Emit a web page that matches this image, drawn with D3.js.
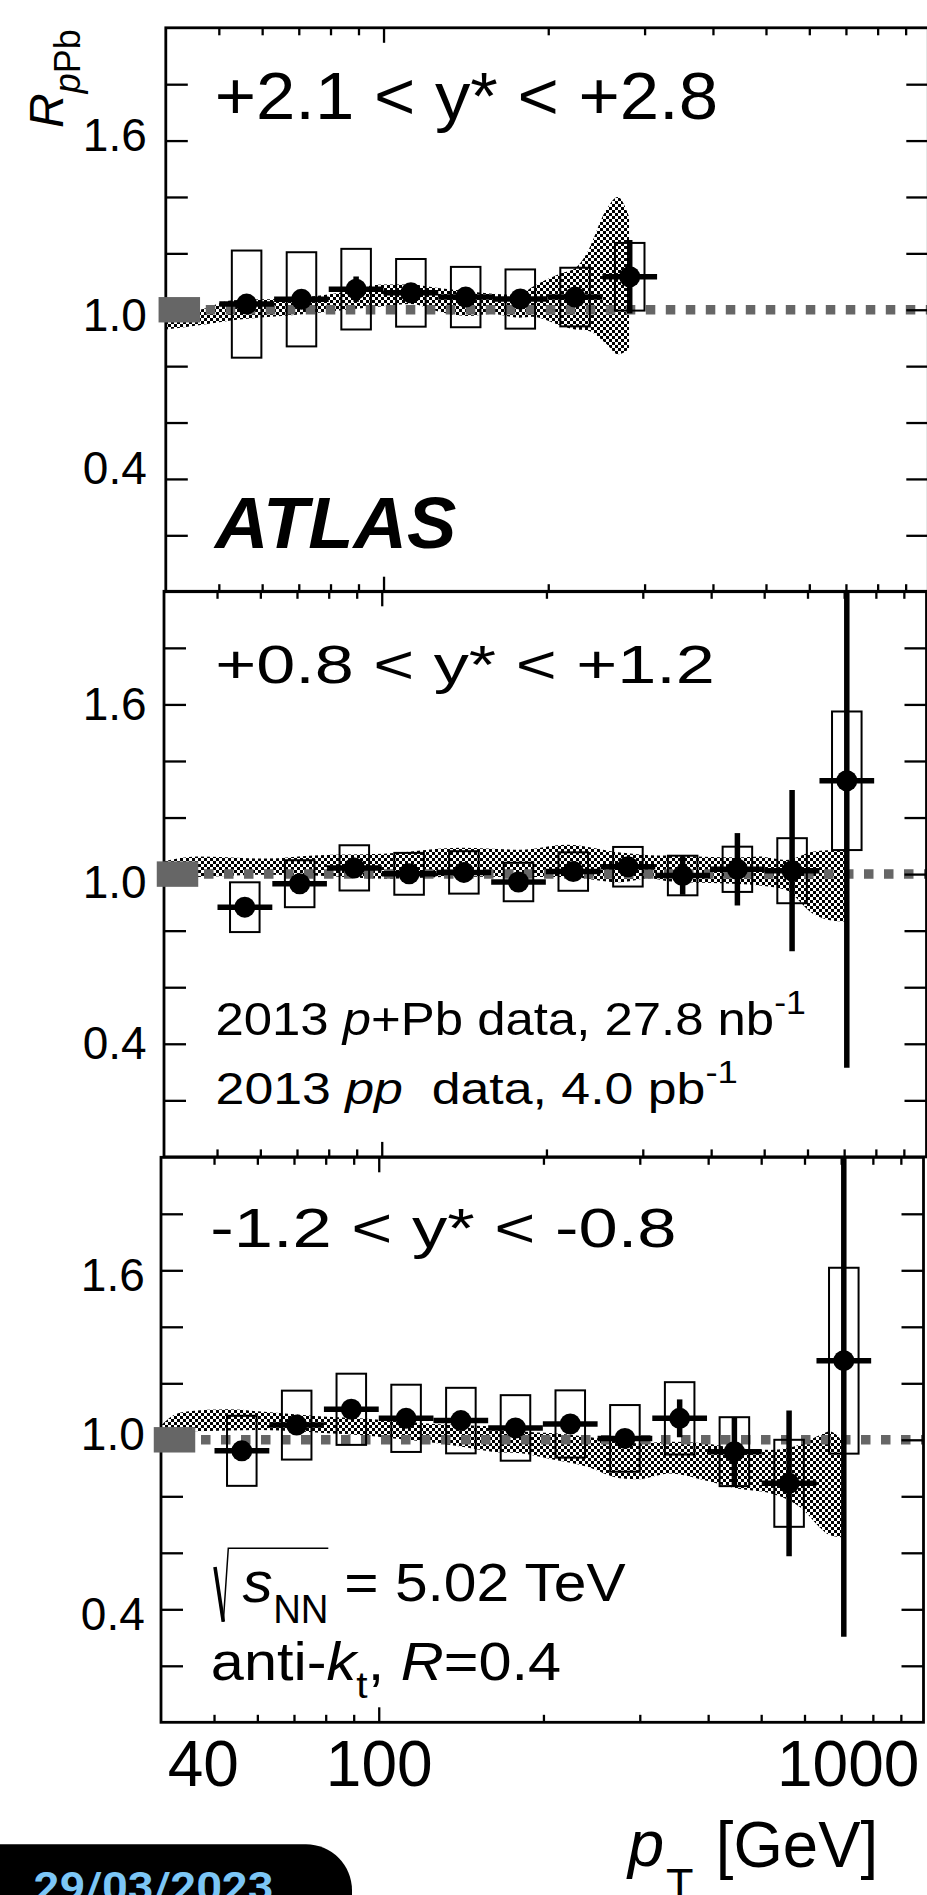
<!DOCTYPE html>
<html>
<head>
<meta charset="utf-8">
<script src="https://cdn.jsdelivr.net/npm/d3@7"></script>
<style>
  html, body { margin: 0; padding: 0; background: #fff; }
  svg { display: block; }
  text { font-family: "Liberation Sans", Arial, Helvetica, sans-serif; white-space: pre; }
</style>
</head>
<body>
<svg id="chart" width="927" height="1895"></svg>
<script>
// ---------------- data ----------------
// jet pT bins [GeV]: edges and plotted centres
const ptEdges   = [50.1, 63.1, 79.4, 100.0, 125.9, 158.5, 199.5, 251.2, 316.2, 398.1, 501.2, 631.0, 794.3];
const ptCenters = [56.2, 70.8, 89.1, 112.2, 141.3, 177.8, 223.9, 281.8, 354.8, 446.7, 562.3, 707.9];

const rapidityLabels = ["+2.1 < y* < +2.8", "+0.8 < y* < +1.2", "-1.2 < y* < -0.8"];

// +2.1 < y* < +2.8
const rFwd    = [1.020, 1.037, 1.073, 1.060, 1.045, 1.038, 1.045, 1.117];
const statFwd = [0.020, 0.020, 0.045, 0.020, 0.020, 0.020, 0.025, 0.130];
const sysFwd  = [0.190, 0.167, 0.143, 0.120, 0.107, 0.105, 0.104, 0.120];

// +0.8 < y* < +1.2
const rMid    = [0.883, 0.966, 1.022, 1.001, 1.006, 0.972, 1.009, 1.026, 0.995, 1.017, 1.012, 1.330];
const statMid = [0.020, 0.020, 0.020, 0.020, 0.020, 0.020, 0.020, 0.025, 0.068, 0.128, 0.285, 1.015];
const sysMid  = [0.088, 0.083, 0.080, 0.074, 0.075, 0.068, 0.068, 0.070, 0.070, 0.080, 0.115, 0.245];

// -1.2 < y* < -0.8
const rBwd    = [0.961, 1.052, 1.108, 1.076, 1.068, 1.042, 1.056, 1.005, 1.076, 0.958, 0.846, 1.280];
const statBwd = [0.020, 0.020, 0.020, 0.020, 0.020, 0.020, 0.020, 0.020, 0.067, 0.122, 0.258, 0.977];
const sysBwd  = [0.124, 0.122, 0.126, 0.119, 0.116, 0.116, 0.119, 0.118, 0.128, 0.122, 0.154, 0.329];

// hatched uncertainty bands (pT, lower, upper)
const bandFwdPt = [40, 46, 53, 67, 81, 100, 112, 128, 142, 158, 177, 187, 210, 224, 235, 255, 268, 281];
const bandFwdLo = [0.930, 0.945, 0.963, 0.980, 0.995, 1.012, 1.020, 0.990, 0.978, 0.985, 0.972, 0.975, 0.945, 0.930, 0.927, 0.880, 0.842, 0.860];
const bandFwdHi = [0.990, 1.000, 1.034, 1.040, 1.057, 1.090, 1.090, 1.075, 1.066, 1.057, 1.053, 1.081, 1.128, 1.147, 1.199, 1.353, 1.400, 1.330];

const bandMidPt = [40, 46, 61.5, 75, 101, 140, 179, 218, 273, 309, 333, 449, 490, 548, 613, 667, 703];
const bandMidLo = [0.995, 0.990, 0.998, 0.995, 0.984, 0.991, 0.990, 0.990, 0.971, 0.985, 0.975, 0.965, 0.960, 0.944, 0.861, 0.835, 0.832];
const bandMidHi = [1.045, 1.062, 1.055, 1.066, 1.072, 1.093, 1.086, 1.104, 1.076, 1.067, 1.066, 1.059, 1.062, 1.050, 1.079, 1.085, 1.086];

const bandBwdPt = [40, 42, 44.6, 53, 61, 71, 80.5, 92, 106.5, 122, 141, 161, 182, 209, 240, 276, 296, 341, 392, 451, 519, 597, 640, 668, 700];
const bandBwdLo = [1.035, 1.030, 1.030, 1.033, 1.035, 1.030, 1.023, 1.017, 1.005, 0.993, 0.976, 0.958, 0.952, 0.929, 0.905, 0.864, 0.860, 0.881, 0.858, 0.828, 0.811, 0.752, 0.690, 0.662, 0.655];
const bandBwdHi = [1.050, 1.085, 1.100, 1.108, 1.100, 1.090, 1.082, 1.076, 1.067, 1.058, 1.052, 1.046, 1.029, 1.023, 1.011, 0.995, 0.988, 0.993, 0.988, 0.970, 0.964, 0.988, 1.017, 1.029, 1.000];

// luminosity / normalisation uncertainty box at unity
const normUnc = 0.045;
const normPtRange = [38.8, 46.2];

// axes
const ptDomain = [40, 990];
const rDomain = [0, 2];
const yTickValues = [0.2, 0.4, 0.6, 0.8, 1.0, 1.2, 1.4, 1.6, 1.8];
const yLabelValues = [0.4, 1.0, 1.6];
const xMinorTicks = [50, 60, 70, 80, 90, 200, 300, 400, 500, 600, 700, 800, 900];
const xMajorTicks = [100];
const xTickLabels = ["40", "100", "1000"];

// ---------------- layout ----------------
const PANEL_W = 762.5;
const panels = [
  { left: 165.8, top: 27.8,   bottom: 591.7,  labelPad: 19,   labelNudge: [-12.3, 4.2, -6.6],
    r: rFwd, stat: statFwd, sys: sysFwd, bPt: bandFwdPt, bLo: bandFwdLo, bHi: bandFwdHi },
  { left: 164.0, top: 591.3,  bottom: 1156.9, labelPad: 17.4, labelNudge: [-2.3, 6.9, -1.0],
    r: rMid, stat: statMid, sys: sysMid, bPt: bandMidPt, bLo: bandMidLo, bHi: bandMidHi },
  { left: 161.0, top: 1157.3, bottom: 1722.3, labelPad: 16.2, labelNudge: [4.0, -7.1, 3.5],
    r: rBwd, stat: statBwd, sys: sysBwd, bPt: bandBwdPt, bLo: bandBwdLo, bHi: bandBwdHi }
];
const BOX_HALF_DEC = 0.027;   // half-width of systematic boxes in decades
const GREY = "#666666";

const svg = d3.select("#chart");
const defs = svg.append("defs");

// checkerboard hatch used by the band
const CELL = 3;
const pat = defs.append("pattern").attr("id", "checker")
  .attr("width", 2 * CELL).attr("height", 2 * CELL).attr("patternUnits", "userSpaceOnUse");
pat.append("rect").attr("x", 0).attr("y", 0).attr("width", CELL).attr("height", CELL)
  .attr("fill", "#000").attr("shape-rendering", "crispEdges");
pat.append("rect").attr("x", CELL).attr("y", CELL).attr("width", CELL).attr("height", CELL)
  .attr("fill", "#000").attr("shape-rendering", "crispEdges");

// ---------------- text helper ----------------
function rich(parent, x, y, parts, opt = {}) {
  const size = opt.size || 46;
  const t = parent.append("text").attr("x", x).attr("y", y).attr("font-size", size);
  if (opt.anchor) t.attr("text-anchor", opt.anchor);
  if (opt.weight) t.attr("font-weight", opt.weight);
  if (opt.style) t.attr("font-style", opt.style);
  if (opt.family) t.style("font-family", opt.family);
  if (opt.fill) t.attr("fill", opt.fill);
  let cur = 0;
  parts.forEach(p => {
    const s = t.append("tspan").text(p.t);
    if (p.size) s.attr("font-size", p.size);
    if (p.it) s.attr("font-style", "italic");
    if (p.b) s.attr("font-weight", "bold");
    const off = p.dy || 0;
    if (off !== cur) { s.attr("dy", off - cur); cur = off; }
  });
  if (opt.width) {
    const bb = t.node().getBBox();
    const k = opt.width / bb.width;
    t.attr("transform", `translate(${bb.x},0) scale(${k},1) translate(${-bb.x},0)`);
  }
  return t;
}
// fit text so its glyphs span [inkL, inkR]
function fitted(parent, inkL, inkR, y, parts, opt = {}) {
  const size = opt.size || 46;
  const pad = 0.045 * size;
  return rich(parent, inkL - pad, y, parts, Object.assign({}, opt, { width: inkR - inkL + 2 * pad }));
}

// ---------------- panels ----------------
panels.forEach((P, pi) => {
  const x = d3.scaleLog().domain(ptDomain).range([P.left, P.left + PANEL_W]);
  const y = d3.scaleLinear().domain(rDomain).range([P.bottom, P.top]);
  const g = svg.append("g").attr("class", "panel");

  const clipId = "clip" + pi;
  defs.append("clipPath").attr("id", clipId).append("rect")
    .attr("x", P.left).attr("y", P.top).attr("width", PANEL_W).attr("height", P.bottom - P.top);
  const inner = g.append("g").attr("clip-path", `url(#${clipId})`);

  // band
  const bandData = P.bPt.map((pt, i) => ({ pt, lo: P.bLo[i], hi: P.bHi[i] }));
  inner.append("path").datum(bandData)
    .attr("fill", "url(#checker)")
    .attr("d", d3.area().x(d => x(d.pt)).y0(d => y(d.lo)).y1(d => y(d.hi)).curve(d3.curveMonotoneX));

  // dotted unity line
  inner.append("line")
    .attr("x1", x(ptDomain[0])).attr("x2", x(ptDomain[1]))
    .attr("y1", y(1)).attr("y2", y(1))
    .attr("stroke", GREY).attr("stroke-width", 9.5).attr("stroke-dasharray", "9.5 10.5");

  const pts = P.r.map((v, i) => ({
    v, stat: P.stat[i], sys: P.sys[i], c: ptCenters[i], lo: ptEdges[i], hi: ptEdges[i + 1]
  }));

  // systematic boxes
  inner.selectAll("rect.sys").data(pts).join("rect").attr("class", "sys")
    .attr("x", d => x(d.c / Math.pow(10, BOX_HALF_DEC)))
    .attr("width", d => x(d.c * Math.pow(10, BOX_HALF_DEC)) - x(d.c / Math.pow(10, BOX_HALF_DEC)))
    .attr("y", d => y(d.v + d.sys))
    .attr("height", d => y(d.v - d.sys) - y(d.v + d.sys))
    .attr("fill", "none").attr("stroke", "#000").attr("stroke-width", 2);

  // bin-width bars
  inner.selectAll("line.xbar").data(pts).join("line").attr("class", "xbar")
    .attr("x1", d => x(d.lo)).attr("x2", d => x(d.hi))
    .attr("y1", d => y(d.v)).attr("y2", d => y(d.v))
    .attr("stroke", "#000").attr("stroke-width", 5.5);

  // statistical error bars
  inner.selectAll("line.stat").data(pts).join("line").attr("class", "stat")
    .attr("x1", d => x(d.c)).attr("x2", d => x(d.c))
    .attr("y1", d => y(d.v - d.stat)).attr("y2", d => y(d.v + d.stat))
    .attr("stroke", "#000").attr("stroke-width", 5.5);

  // markers
  inner.selectAll("circle.pt").data(pts).join("circle").attr("class", "pt")
    .attr("cx", d => x(d.c)).attr("cy", d => y(d.v)).attr("r", 10.5).attr("fill", "#000");

  // ticks
  const tickStyle = sel => {
    sel.select(".domain").remove();
    sel.selectAll("line").attr("stroke-width", 2.3);
    sel.selectAll("text").remove();
  };
  g.append("g").attr("transform", `translate(${P.left},0)`)
    .call(d3.axisLeft(y).tickValues(yTickValues).tickSize(-22).tickFormat("")).call(tickStyle);
  g.append("g").attr("transform", `translate(${P.left + PANEL_W},0)`)
    .call(d3.axisRight(y).tickValues(yTickValues).tickSize(-22).tickFormat("")).call(tickStyle);
  g.append("g").attr("transform", `translate(0,${P.bottom})`)
    .call(d3.axisBottom(x).tickValues(xMinorTicks).tickSize(-7.5).tickFormat("")).call(tickStyle);
  g.append("g").attr("transform", `translate(0,${P.bottom})`)
    .call(d3.axisBottom(x).tickValues(xMajorTicks).tickSize(-15).tickFormat("")).call(tickStyle);
  g.append("g").attr("transform", `translate(0,${P.top})`)
    .call(d3.axisTop(x).tickValues(xMinorTicks).tickSize(-7.5).tickFormat("")).call(tickStyle);
  g.append("g").attr("transform", `translate(0,${P.top})`)
    .call(d3.axisTop(x).tickValues(xMajorTicks).tickSize(-15).tickFormat("")).call(tickStyle);

  // frame
  g.append("rect").attr("x", P.left).attr("y", P.top)
    .attr("width", PANEL_W).attr("height", P.bottom - P.top)
    .attr("fill", "none").attr("stroke", "#000").attr("stroke-width", 2.8);

  // normalisation box
  g.append("rect")
    .attr("x", x(normPtRange[0])).attr("width", x(normPtRange[1]) - x(normPtRange[0]))
    .attr("y", y(1 + normUnc)).attr("height", y(1 - normUnc) - y(1 + normUnc))
    .attr("fill", GREY);

  // y labels
  const yl = g.append("g").attr("transform", `translate(${P.left},0)`)
    .call(d3.axisLeft(y).tickValues(yLabelValues).tickSize(0).tickPadding(P.labelPad).tickFormat(d3.format(".1f")));
  yl.select(".domain").remove();
  yl.attr("font-size", 46).attr("font-family", null);
  yl.selectAll("text").attr("dy", "0.36em").attr("fill", "#000")
    .attr("y", (d, i) => P.labelNudge[i]);
});

// ---------------- panel texts ----------------
const T = svg.append("g").attr("class", "annotations");

fitted(T, 217.6, 715.3, 119.5, [{ t: rapidityLabels[0] }], { size: 66 });
fitted(T, 218.3, 455.2, 548.3, [{ t: "ATLAS" }], { size: 72, weight: "bold", style: "italic" });

fitted(T, 217.6, 712.4, 682.7, [{ t: rapidityLabels[1] }], { size: 53 });
fitted(T, 217.6, 804, 1035.4, [
  { t: "2013 " }, { t: "p", it: true }, { t: "+Pb data, 27.8 nb" }, { t: "-1", size: 33, dy: -21 }
], { size: 47 });
fitted(T, 217.6, 736, 1104, [
  { t: "2013 " }, { t: "pp", it: true }, { t: "  data, 4.0 pb" }, { t: "-1", size: 31, dy: -21 }
], { size: 44 });

fitted(T, 212.8, 674, 1247.4, [{ t: rapidityLabels[2] }], { size: 56 });

// sqrt(s_NN) = 5.02 TeV
T.append("path")
  .attr("d", "M215,1567 L223.3,1621.7")
  .attr("stroke", "#000").attr("stroke-width", 3.6).attr("fill", "none");
T.append("path")
  .attr("d", "M223.3,1621.7 L228.3,1548.3 L328.3,1548.3")
  .attr("stroke", "#000").attr("stroke-width", 1.5).attr("fill", "none");
fitted(T, 245, 270, 1601.7, [{ t: "s", it: true }], { size: 58 });
fitted(T, 275, 326.7, 1622.7, [{ t: "NN" }], { size: 41 });
fitted(T, 346.7, 623.3, 1601, [{ t: "= 5.02 TeV" }], { size: 54 });

fitted(T, 213.3, 558.7, 1680, [
  { t: "anti-" }, { t: "k", it: true }, { t: "t", size: 37, dy: 18 }, { t: ", " },
  { t: "R", it: true }, { t: "=0.4" }
], { size: 54 });

// x tick labels (bottom panel)
const xLabelCenters = [203.3, 379.2, 848.2];
xTickLabels.forEach((lab, i) => {
  T.append("text").attr("x", xLabelCenters[i]).attr("y", 1785.7)
    .attr("text-anchor", "middle").attr("font-size", 64).text(lab);
});

// x axis title
rich(T, 628, 1865.5, [{ t: "p", it: true }], { size: 65 });
rich(T, 666, 1900, [{ t: "T" }], { size: 45 });
fitted(T, 718.7, 875.3, 1866.7, [{ t: "[GeV]" }], { size: 65 });

// y axis title
const yt = T.append("g").attr("transform", "translate(62.7,128) rotate(-90)");
rich(yt, 0, 0, [{ t: "R", it: true }, { t: "p", it: true, size: 36, dy: 17 }, { t: "Pb", size: 36, dy: 17 }], { size: 48 });

// date badge
T.append("path")
  .attr("d", "M-5,1844.3 H306 A46,46 0 0 1 352,1890.3 V1900 H-5 Z")
  .attr("fill", "#000");
fitted(T, 35.5, 272, 1901, [{ t: "29/03/2023" }],
  { size: 41, weight: "bold", fill: "#7cc6f6", family: "Roboto, 'Open Sans', 'DejaVu Sans', sans-serif" });
</script>
</body>
</html>
